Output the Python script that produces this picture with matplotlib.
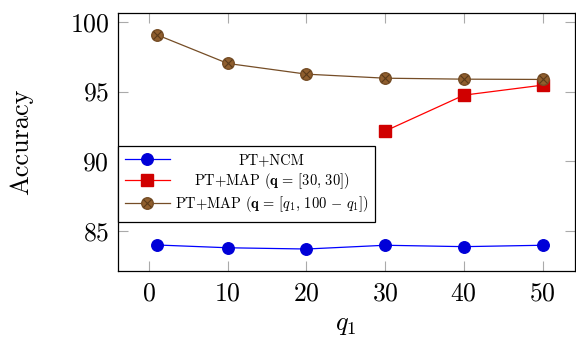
import matplotlib
matplotlib.use("Agg")
from matplotlib import pyplot

pyplot.rcParams["font.family"] = "serif"
pyplot.rcParams["font.serif"] = ["cmr10", "DejaVu Serif"]
pyplot.rcParams["mathtext.fontset"] = "cm"
pyplot.rcParams["axes.formatter.use_mathtext"] = True

q1 = [1, 10, 20, 30, 40, 50]
ncm = [83.97, 83.77, 83.68, 83.95, 83.85, 83.95]
q1_fixed = [30, 40, 50]
map_fixed = [92.16, 94.74, 95.46]
map_q1 = [99.08, 97.02, 96.25, 95.96, 95.89, 95.87]

labels = [
    "PT+NCM",
    r"PT+MAP ($\mathbf{q}\,=\,[30,\,30]$)",
    r"PT+MAP ($\mathbf{q}\,=\,[q_1,\,100\,-\,q_1]$)",
]

fig = pyplot.figure(figsize=(5.76, 3.39), dpi=100)
ax = fig.add_axes([0.204, 0.2006, 0.794, 0.7604])

blue, = ax.plot(q1, ncm, color="blue", lw=0.9, marker="o", markersize=8.3,
                markerfacecolor="#0000d8", markeredgecolor="#0000d8")
red, = ax.plot(q1_fixed, map_fixed, color="red", lw=0.9, marker="s", markersize=8,
               markerfacecolor="#d00000", markeredgecolor="#d00000")
brown, = ax.plot(q1, map_q1, color="#754d26", lw=0.9, marker="o", markersize=8.3,
                 markerfacecolor="#8f5e2e", markeredgecolor="#754d26")
cross, = ax.plot(q1, map_q1, linestyle="none", marker="x", markersize=5.5,
                 markeredgecolor="#5a3a1a", markeredgewidth=0.8)

ax.set_xlim(-4, 54.1)
ax.set_ylim(82.1, 100.63)
ax.set_xticks([0, 10, 20, 30, 40, 50])
ax.set_yticks([85, 90, 95, 100])
ax.tick_params(direction="in", length=7.5, width=0.8, color="#aaaaaa",
               top=True, right=True, labelsize=18.5)
ax.tick_params(axis="x", pad=7.5)
ax.tick_params(axis="y", pad=6)
for spine in ax.spines.values():
    spine.set_linewidth(0.9)

ax.set_xlabel(r"$q_1$", fontsize=19, labelpad=6)
ax.set_ylabel("Accuracy", fontsize=19, labelpad=26)

leg = ax.legend(
    [blue, red, (brown, cross)],
    labels,
    loc="upper left",
    bbox_to_anchor=(0, 0.484),
    borderaxespad=0,
    fontsize=10.4,
    handlelength=3.1,
    handletextpad=0.35,
    labelspacing=0.25,
    borderpad=0.5,
    fancybox=False,
    framealpha=1,
    edgecolor="black",
)
leg.get_frame().set_linewidth(0.9)

# centre the legend entries the way pgfplots does
fig.canvas.draw()
texts = leg.get_texts()
widths = [t.get_window_extent().width * 72 / fig.dpi for t in texts]
widest = max(widths)
rows = leg._legend_handle_box.get_children()[0].get_children()
for row, w in zip(rows, widths):
    row.sep = row.sep + (widest - w) / 2

fig.savefig("out.png", dpi=100)
